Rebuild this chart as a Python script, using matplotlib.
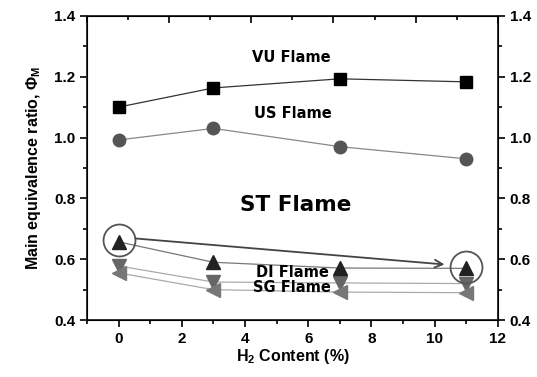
import numpy as np
import matplotlib.pyplot as plt
from matplotlib.ticker import MultipleLocator

# --- DATA ---
h2 = [0, 3, 7, 11]
vu = [1.100, 1.163, 1.193, 1.183]
us = [0.992, 1.030, 0.970, 0.930]
st = [0.657, 0.590, 0.571, 0.570]
di = [0.578, 0.525, 0.522, 0.520]
sg = [0.555, 0.500, 0.492, 0.490]

labels = {"VU Flame": (5.45, 1.262), "US Flame": (5.5, 1.080),
          "DI Flame": (5.5, 0.556), "SG Flame": (5.5, 0.506)}

plt.rcParams['font.family'] = ['Liberation Sans', 'DejaVu Sans']
plt.rcParams['font.weight'] = 'bold'
plt.rcParams['mathtext.default'] = 'regular'

fig = plt.figure(figsize=(5.37, 3.77), dpi=100)
ax = fig.add_axes([0.162, 0.151, 0.765, 0.807])

ax.plot(h2, vu, color='#333333', lw=0.9, marker='s', ms=9, mfc='black', mec='black')
ax.plot(h2, us, color='#888888', lw=0.9, marker='o', ms=9, mfc='#555555', mec='#555555')
ax.plot(h2, di, color='#aaaaaa', lw=0.9, marker='v', ms=10, mfc='#666666', mec='#666666')
ax.plot(h2, sg, color='#aaaaaa', lw=0.9, marker='<', ms=10, mfc='#777777', mec='#777777')
ax.plot(h2, st, color='#777777', lw=0.9, marker='^', ms=10, mfc='#222222', mec='#222222')

# circles highlighting the ST points at 0 % and 11 %
for i in (0, 3):
    ax.plot(h2[i], st[i] + 0.005, marker='o', ms=23, mfc='none', mec='#555555', mew=1.3)
ax.annotate('', xy=(h2[3] - 0.6, st[3] + 0.012), xytext=(h2[0] + 0.45, st[0] + 0.012),
            arrowprops=dict(arrowstyle='->', color='#444444', lw=1.3, mutation_scale=14))

for txt, (x, y) in labels.items():
    ax.text(x, y, txt, ha='center', va='center', fontsize=10.5, fontweight='bold',
            family=['DejaVu Sans'])
ax.text(5.6, 0.778, 'ST Flame', ha='center', va='center', fontsize=15.5,
        fontweight='bold', family=['DejaVu Sans'])

ax.set_xlim(-1, 12)
ax.set_ylim(0.4, 1.4)
ax.xaxis.set_major_locator(MultipleLocator(2))
ax.xaxis.set_minor_locator(MultipleLocator(1))
ax.yaxis.set_major_locator(MultipleLocator(0.2))
ax.yaxis.set_minor_locator(MultipleLocator(0.1))
ax.tick_params(which='both', direction='out', labelsize=11, width=1.2,
               right=True, labelright=True, top=False)
ax.tick_params(which='major', length=5)
ax.tick_params(which='minor', length=3)
for lab in ax.get_xticklabels() + ax.get_yticklabels():
    lab.set_fontweight('bold')
for s in ax.spines.values():
    s.set_linewidth(1.3)
    s.set_color('#222222')

# top axis: inward ticks only, no labels
top = ax.twiny()
top.set_xlim(0, 10)
top.xaxis.set_major_locator(MultipleLocator(2))
top.xaxis.set_minor_locator(MultipleLocator(1))
top.tick_params(which='both', direction='in', labeltop=False, width=1.2)
top.tick_params(which='major', length=5)
top.tick_params(which='minor', length=3)

ax.set_xlabel('H$_2$ Content (%)', fontsize=11.5, fontweight='bold', labelpad=1)
ax.set_ylabel('Main equivalence ratio, $\\Phi_M$', fontsize=11.5, fontweight='bold', labelpad=8)

fig.savefig('out.png', dpi=100)
